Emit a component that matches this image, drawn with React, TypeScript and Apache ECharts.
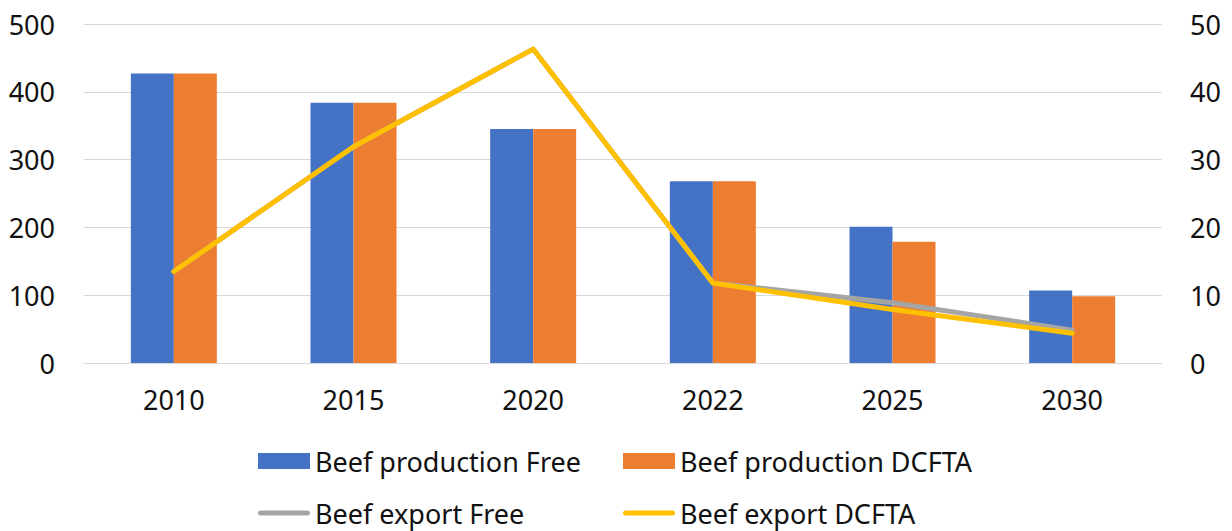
import React, { useEffect, useRef } from "react";
import * as echarts from "echarts";

const categories = ["2010", "2015", "2020", "2022", "2025", "2030"];
const productionFree = [427, 384, 345, 268, 201, 107];
const productionDCFTA = [427, 384, 345, 268, 179, 98.5];
const exportFree = [13.5, 31.9, 46.3, 11.8, 8.9, 4.85];
const exportDCFTA = [13.5, 31.9, 46.3, 11.8, 7.9, 4.4];

const FONT = "Noto Sans";
const TXT = "#111111";
const LINE_ICON = "path://M2.5,0 L49.5,0 A2.5,2.5 0 0 1 49.5,5 L2.5,5 A2.5,2.5 0 0 1 2.5,0 Z";

export default function App() {
  const ref = useRef<HTMLDivElement>(null);
  useEffect(() => {
    if (!ref.current) return;
    const chart = echarts.init(ref.current, undefined, { renderer: "svg" });
    const textStyle = { fontFamily: FONT, fontSize: 27, color: TXT, lineHeight: 28 };
    const legendBase = {
      orient: "vertical",
      top: 447,
      height: 84,
      padding: 0,
      itemWidth: 52,
      itemHeight: 16,
      itemGap: 24,
      symbolKeepAspect: true,
      textStyle: { ...textStyle },
    };
    chart.setOption({
      animation: false,
      textStyle: { fontFamily: FONT },
      grid: { left: 84, right: 70, top: 24, bottom: 168, containLabel: false },
      legend: [
        {
          ...legendBase,
          left: 258,
          data: [
            { name: "Beef production Free", icon: "rect" },
            { name: "Beef export Free", icon: LINE_ICON },
          ],
        },
        {
          ...legendBase,
          left: 623,
          data: [
            { name: "Beef production DCFTA", icon: "rect" },
            { name: "Beef export DCFTA", icon: LINE_ICON },
          ],
        },
      ],
      xAxis: {
        type: "category",
        data: categories,
        axisLine: { lineStyle: { color: "#D9D9D9", width: 1 } },
        axisTick: { show: false },
        axisLabel: { ...textStyle, margin: 22 },
      },
      yAxis: [
        {
          type: "value",
          min: 0,
          max: 500,
          interval: 100,
          axisLine: { show: false },
          axisTick: { show: false },
          splitLine: { lineStyle: { color: "#D9D9D9", width: 1 } },
          axisLabel: { ...textStyle, margin: 29 },
        },
        {
          type: "value",
          min: 0,
          max: 50,
          interval: 10,
          axisLine: { show: false },
          axisTick: { show: false },
          splitLine: { show: false },
          axisLabel: { ...textStyle, margin: 28 },
        },
      ],
      series: [
        {
          name: "Beef production Free",
          type: "bar",
          data: productionFree,
          barWidth: 43,
          barGap: "0%",
          itemStyle: { color: "#4472C4" },
        },
        {
          name: "Beef production DCFTA",
          type: "bar",
          data: productionDCFTA,
          barWidth: 43,
          barGap: "0%",
          itemStyle: { color: "#ED7D31" },
        },
        {
          name: "Beef export Free",
          type: "line",
          yAxisIndex: 1,
          data: exportFree,
          symbol: "none",
          itemStyle: { color: "#A5A5A5" },
          lineStyle: { color: "#A5A5A5", width: 5, cap: "round", join: "round" },
        },
        {
          name: "Beef export DCFTA",
          type: "line",
          yAxisIndex: 1,
          data: exportDCFTA,
          symbol: "none",
          itemStyle: { color: "#FFC000" },
          lineStyle: { color: "#FFC000", width: 5, cap: "round", join: "round" },
        },
      ],
    });
    return () => chart.dispose();
  }, []);
  return <div ref={ref} style={{ width: 1232, height: 531, position: "absolute", left: 0, top: 0 }} />;
}
